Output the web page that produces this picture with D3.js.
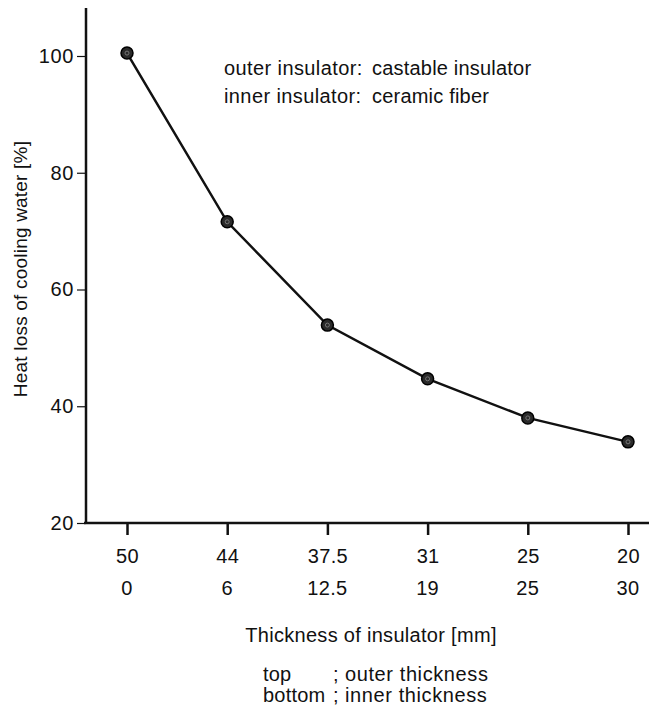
<!DOCTYPE html>
<html>
<head>
<meta charset="utf-8">
<script src="https://cdn.jsdelivr.net/npm/d3@7"></script>
<style>
  body { margin: 0; background: #fff; }
  text { font-family: "Liberation Sans", Arial, sans-serif; fill: #111; }
</style>
</head>
<body>
<script>
// data
var outerThickness = ["50", "44", "37.5", "31", "25", "20"];
var innerThickness = ["0", "6", "12.5", "19", "25", "30"];
var heatLoss = [100.5, 71.6, 53.9, 44.7, 38.0, 33.9];
var yTicks = [20, 40, 60, 80, 100];

var w = 649, h = 710;

var svg = d3.select("body").append("svg")
    .attr("width", w)
    .attr("height", h);

var x = d3.scaleLinear()
    .domain([0, outerThickness.length - 1])
    .range([127, 628]);

var y = d3.scaleLinear()
    .domain([20, 100])
    .range([523, 56]);

// y axis
var yAxis = d3.axisLeft(y)
    .tickValues(yTicks)
    .tickSize(9)
    .tickPadding(3);

var gy = svg.append("g")
    .attr("transform", "translate(86,0)")
    .call(yAxis);
gy.select(".domain").remove();
gy.selectAll("line").attr("stroke", "#111").attr("stroke-width", 1.2);
gy.selectAll("text")
    .style("font-size", "20px")
    .style("letter-spacing", "0.6px")
    .attr("fill", "#111");

svg.append("line")
    .attr("x1", 86).attr("x2", 86)
    .attr("y1", 8).attr("y2", 524)
    .attr("stroke", "#111").attr("stroke-width", 2.5);

// x axis
svg.append("line")
    .attr("x1", 84).attr("x2", 649)
    .attr("y1", 523).attr("y2", 523)
    .attr("stroke", "#111").attr("stroke-width", 2.5);

var xAxis = d3.axisBottom(x)
    .tickValues(d3.range(outerThickness.length))
    .tickSize(12)
    .tickFormat(function(d) { return outerThickness[d]; })
    .tickPadding(14);

var gx = svg.append("g")
    .attr("transform", "translate(0,523)")
    .call(xAxis);
gx.select(".domain").remove();
gx.selectAll("line").attr("stroke", "#111").attr("stroke-width", 2.5);
gx.selectAll("text")
    .style("font-size", "20px")
    .style("letter-spacing", "0.3px")
    .attr("fill", "#111");

// second row of tick labels (inner thickness)
svg.append("g").selectAll("text")
    .data(innerThickness)
    .enter()
    .append("text")
    .attr("x", function(d, i) { return x(i); })
    .attr("y", 595)
    .attr("text-anchor", "middle")
    .style("font-size", "20px")
    .style("letter-spacing", "0.3px")
    .text(function(d) { return d; });

// line + markers
var line = d3.line()
    .x(function(d, i) { return x(i); })
    .y(function(d) { return y(d); });

svg.append("path")
    .datum(heatLoss)
    .attr("d", line)
    .attr("fill", "none")
    .attr("stroke", "#111")
    .attr("stroke-width", 2.5);

svg.selectAll("circle.pt")
    .data(heatLoss)
    .enter()
    .append("circle")
    .attr("class", "pt")
    .attr("cx", function(d, i) { return x(i); })
    .attr("cy", function(d) { return y(d); })
    .attr("r", 6)
    .attr("fill", "#2a2a2a")
    .attr("stroke", "#000")
    .attr("stroke-width", 1.5);

svg.selectAll("circle.core")
    .data(heatLoss)
    .enter()
    .append("circle")
    .attr("class", "core")
    .attr("cx", function(d, i) { return x(i); })
    .attr("cy", function(d) { return y(d); })
    .attr("r", 2)
    .attr("fill", "none")
    .attr("stroke", "#777")
    .attr("stroke-width", 1);

// axis titles
svg.append("text")
    .attr("transform", "translate(27,269) rotate(-90)")
    .attr("text-anchor", "middle")
    .style("font-size", "19px")
    .style("letter-spacing", "0.2px")
    .text("Heat loss of cooling water [%]");

svg.append("text")
    .attr("x", 371)
    .attr("y", 642)
    .attr("text-anchor", "middle")
    .style("font-size", "20px")
    .style("letter-spacing", "0.3px")
    .text("Thickness of insulator [mm]");

// notes under the x axis
var notes = [["top", "outer thickness"], ["bottom", "inner thickness"]];
notes.forEach(function(n, i) {
    var yy = 681 + i * 21;
    svg.append("text").attr("x", 263).attr("y", yy).style("font-size", "20px").style("letter-spacing", "0.2px").text(n[0]);
    svg.append("text").attr("x", 333).attr("y", yy).style("font-size", "20px").text(";");
    svg.append("text").attr("x", 345).attr("y", yy).style("font-size", "20px").style("letter-spacing", "0.6px").text(n[1]);
});

// annotation in the plot
var legend = [["outer insulator:", "castable insulator"], ["inner insulator:", "ceramic fiber"]];
legend.forEach(function(n, i) {
    var yy = 75 + i * 28;
    svg.append("text").attr("x", 224).attr("y", yy).style("font-size", "20px").style("letter-spacing", "0.4px").text(n[0]);
    svg.append("text").attr("x", 372).attr("y", yy).style("font-size", "20px").style("letter-spacing", "0.2px").text(n[1]);
});
</script>
</body>
</html>
